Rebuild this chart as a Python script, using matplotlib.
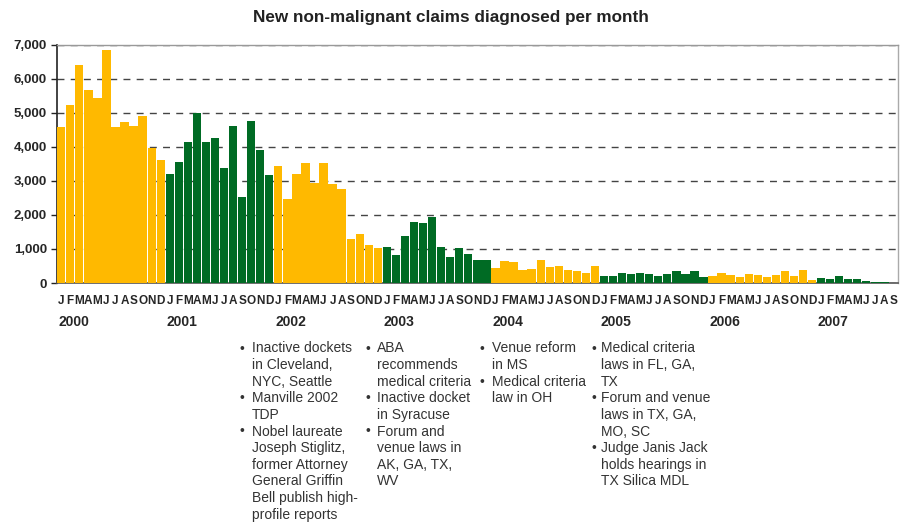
import matplotlib
matplotlib.use("Agg")
import matplotlib.pyplot as plt
from matplotlib.ticker import FuncFormatter

plt.rcParams['font.family'] = ['Liberation Sans', 'DejaVu Sans']

years = [2000, 2001, 2002, 2003, 2004, 2005, 2006, 2007]
month_letters = ["J", "F", "M", "A", "M", "J", "J", "A", "S", "O", "N", "D"]

claims_2000 = [4590, 5230, 6400, 5680, 5440, 6850, 4590, 4730, 4610, 4910, 3980, 3610]
claims_2001 = [3200, 3550, 4140, 4990, 4140, 4260, 3380, 4610, 2520, 4770, 3910, 3170]
claims_2002 = [3440, 2460, 3200, 3530, 2940, 3530, 2910, 2760, 1290, 1430, 1110, 1020]
claims_2003 = [1050, 820, 1380, 1790, 1760, 1930, 1050, 760, 1020, 840, 670, 670]
claims_2004 = [430, 640, 610, 370, 400, 670, 460, 490, 370, 340, 290, 500]
claims_2005 = [210, 210, 290, 270, 290, 270, 210, 270, 350, 270, 350, 180]
claims_2006 = [210, 290, 240, 180, 270, 240, 180, 240, 350, 210, 380, 90]
claims_2007 = [150, 120, 210, 120, 120, 60, 30, 30, 0]

yearly = [claims_2000, claims_2001, claims_2002, claims_2003,
          claims_2004, claims_2005, claims_2006, claims_2007]

yellow = "#FFB900"
green = "#006B24"
text_col = "#262626"

notes_2002 = [
    ["Inactive dockets", "in Cleveland,", "NYC, Seattle"],
    ["Manville 2002", "TDP"],
    ["Nobel laureate", "Joseph Stiglitz,", "former Attorney", "General Griffin",
     "Bell publish high-", "profile reports"],
]
notes_2003 = [
    ["ABA", "recommends", "medical criteria"],
    ["Inactive docket", "in Syracuse"],
    ["Forum and", "venue laws in", "AK, GA, TX,", "WV"],
]
notes_2004 = [
    ["Venue reform", "in MS"],
    ["Medical criteria", "law in OH"],
]
notes_2005 = [
    ["Medical criteria", "laws in FL, GA,", "TX"],
    ["Forum and venue", "laws in TX, GA,", "MO, SC"],
    ["Judge Janis Jack", "holds hearings in", "TX Silica MDL"],
]

W, H = 901, 523
fig = plt.figure(figsize=(W / 100, H / 100), dpi=100)
ax_left, ax_right, ax_top, ax_bottom = 56.7, 898, 45, 283
ax = fig.add_axes([ax_left / W, 1 - ax_bottom / H,
                   (ax_right - ax_left) / W, (ax_bottom - ax_top) / H])

idx = 0
for yi, vals in enumerate(yearly):
    col = yellow if yi % 2 == 0 else green
    xs = list(range(idx, idx + len(vals)))
    ax.bar(xs, vals, width=0.92, color=col, linewidth=0, zorder=3)
    idx += len(vals)
n = idx

ax.set_xlim(-0.5, n - 0.5 + (93 - n))
ax.set_ylim(0, 7000)
ax.set_yticks(range(0, 7001, 1000))
ax.yaxis.set_major_formatter(FuncFormatter(lambda v, p: f"{int(v):,}"))
ax.tick_params(axis='y', length=4, width=1, color="#222222", labelsize=9.5,
               labelcolor=text_col, pad=3)
for lab in ax.get_yticklabels():
    lab.set_fontweight('bold')
ax.set_xticks([])
ax.yaxis.grid(True, linestyle=(0, (5, 4.5)), color="#444444", linewidth=1.0, zorder=1)
ax.set_axisbelow(True)

ax.spines['left'].set_color("#222222")
ax.spines['left'].set_linewidth(1.2)
ax.spines['bottom'].set_color("#555555")
ax.spines['bottom'].set_linewidth(1.2)
ax.spines['top'].set_color("#999999")
ax.spines['top'].set_linewidth(1.0)
ax.spines['right'].set_color("#aaaaaa")
ax.spines['right'].set_linewidth(1.0)

trans = ax.get_xaxis_transform()
ah = ax_bottom - ax_top
total_months = 93
for i in range(total_months):
    ax.text(i, (ax_bottom - 300.5) / ah, month_letters[i % 12], transform=trans,
            ha='center', va='center', fontsize=8.5, fontweight='bold', color=text_col)
for yi, yr in enumerate(years):
    ax.text(yi * 12 - 0.35, (ax_bottom - 322.5) / ah, str(yr), transform=trans,
            ha='left', va='center', fontsize=10, fontweight='bold', color=text_col)

fig.text(0.5, 1 - 17.5 / H, "New non-malignant claims diagnosed per month",
         ha='center', va='center', fontsize=12.3, fontweight='bold', color="#222222")

line_h = 16.6
top_y = 348.5
columns = [(239.5, 252, notes_2002), (366, 377, notes_2003),
           (479.5, 491.5, notes_2004), (591, 601, notes_2005)]
for bx, tx, notes in columns:
    row = 0
    for bullet in notes:
        y = top_y + row * line_h
        fig.text(bx / W, 1 - y / H, "\u2022", ha='left', va='center',
                 fontsize=10, color="#333333")
        for line in bullet:
            y = top_y + row * line_h
            fig.text(tx / W, 1 - y / H, line, ha='left', va='center',
                     fontsize=10, color="#333333")
            row += 1

fig.savefig("out.png", dpi=100)
